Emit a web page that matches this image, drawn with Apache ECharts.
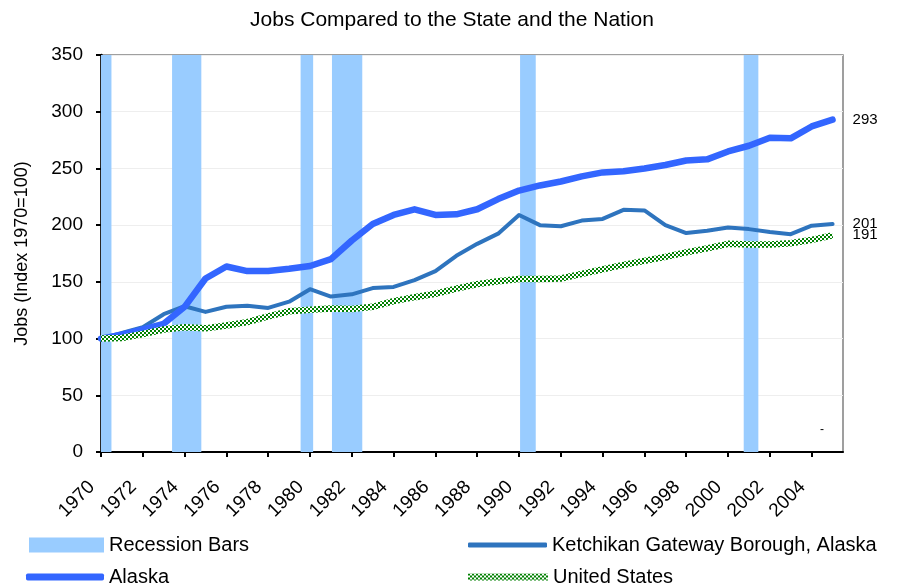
<!DOCTYPE html>
<html>
<head>
<meta charset="utf-8">
<title>Jobs Compared to the State and the Nation</title>
<script src="https://cdn.jsdelivr.net/npm/echarts@6/dist/echarts.min.js"></script>
<style>
  html, body { margin: 0; padding: 0; background: #fff; }
  #chart { width: 904px; height: 588px; }
</style>
</head>
<body>
<div id="chart"></div>
<script>
const years = [1970, 1971, 1972, 1973, 1974, 1975, 1976, 1977, 1978, 1979,
  1980, 1981, 1982, 1983, 1984, 1985, 1986, 1987, 1988, 1989,
  1990, 1991, 1992, 1993, 1994, 1995, 1996, 1997, 1998, 1999,
  2000, 2001, 2002, 2003, 2004, 2005]
const tickYears = [1970, 1972, 1974, 1976, 1978, 1980, 1982, 1984, 1986,
  1988, 1990, 1992, 1994, 1996, 1998, 2000, 2002, 2004]
const yTicks = [0, 50, 100, 150, 200, 250, 300, 350]
// start / end of each recession, in years
const recessions = [[1970, 1970.5], [1973.4, 1974.8], [1979.55, 1980.15],
  [1981.05, 1982.5], [1990.05, 1990.8], [2000.75, 2001.45]]
const ketchikan = [100, 105, 110, 121.5, 128.5, 123.5, 128, 129, 127, 132.5,
  143.5, 137, 139, 144.5, 145.5, 151.5, 159.5, 173, 183.5, 192.5,
  209, 200, 199, 204, 205.5, 213.5, 213, 200, 193, 195,
  198, 196.5, 194, 192, 199.5, 201]
const alaska = [100, 103.5, 108, 113, 128, 153, 163.5, 159.5, 159.5, 161.5,
  164, 170, 186.5, 201, 209, 214, 209, 209.5, 214, 223,
  230.5, 235, 238.5, 243, 246.5, 247.5, 250, 253, 257, 258,
  265, 270, 277, 276.5, 287, 293]
const unitedStates = [100, 100.5, 104, 108, 110, 109, 111.5, 114.5, 119.5, 124,
  125.5, 126.5, 126, 128, 133, 136.5, 139.5, 144, 148, 150.5,
  152.5, 152.5, 153, 157, 161, 165, 168.5, 172, 176, 179.5,
  183.5, 183, 183, 184, 187, 191]

const font = "'Liberation Sans', Arial, sans-serif"
const yMax = 350

function pairs(values) {
  return values.map((v, i) => [years[i], v])
}

// green / white checkered fill for the US line
function checker() {
  const c = document.createElement('canvas')
  c.width = 4
  c.height = 4
  const ctx = c.getContext('2d')
  ctx.fillStyle = '#ffffff'
  ctx.fillRect(0, 0, 4, 4)
  ctx.fillStyle = '#008000'
  ctx.fillRect(0, 0, 2, 2)
  ctx.fillRect(2, 2, 2, 2)
  return c
}
const usPattern = { image: checker(), repeat: 'repeat' }

const endLabel = {
  show: true,
  distance: 20,
  fontSize: 15,
  color: '#000',
  fontFamily: font,
  formatter: p => Math.round(p.value[1])
}

// one legend box per entry, so the two columns line up like the original
function legendItem(name, icon, left, top, w, h, color) {
  return {
    left: left, top: top, padding: 0,
    itemWidth: w, itemHeight: h,
    selectedMode: false,
    textStyle: { fontSize: 20, color: '#000', fontFamily: font },
    itemStyle: { color: color },
    data: [{ name: name, icon: icon }]
  }
}

const chart = echarts.init(document.getElementById('chart'))
chart.setOption({
  animation: false,
  title: {
    text: 'Jobs Compared to the State and the Nation',
    left: 'center',
    top: 5,
    textStyle: { fontSize: 21, fontWeight: 'normal', color: '#000', fontFamily: font }
  },
  grid: {
    left: 101, right: 61, top: 55, bottom: 136,
    show: true, borderColor: '#808080', borderWidth: 1.5
  },
  legend: [
    legendItem('Recession Bars', 'rect', 29, 535, 75, 15, '#99ccff'),
    legendItem('Alaska', 'roundRect', 26, 567, 78, 7, '#3366ff'),
    legendItem('Ketchikan Gateway Borough, Alaska', 'roundRect', 468, 535, 79, 5, '#2e74be'),
    legendItem('United States', 'rect', 468, 567, 80, 7, usPattern)
  ],
  xAxis: {
    type: 'value',
    min: 1970,
    max: 2005.5,
    axisLine: { lineStyle: { color: '#000', width: 2 } },
    axisTick: { customValues: tickYears, length: 5, lineStyle: { color: '#000', width: 2 } },
    axisLabel: {
      customValues: tickYears,
      rotate: 45,
      margin: 23,
      padding: [0, 13, 0, 0],
      fontSize: 19,
      color: '#000',
      fontFamily: font,
      formatter: v => String(v)
    },
    splitLine: { show: false }
  },
  yAxis: {
    type: 'value',
    min: 0,
    max: yMax,
    interval: 50,
    name: 'Jobs (Index 1970=100)',
    nameLocation: 'middle',
    nameGap: 70,
    nameTextStyle: { fontSize: 18, color: '#000', fontFamily: font },
    axisLine: { show: true, lineStyle: { color: '#000', width: 2.5 } },
    axisTick: { show: true, customValues: yTicks, length: 5, lineStyle: { color: '#000', width: 2 } },
    axisLabel: { customValues: yTicks, margin: 18, fontSize: 19, color: '#000', fontFamily: font },
    splitLine: { lineStyle: { color: '#eeeeee', width: 1 } }
  },
  graphic: [
    { type: 'text', left: 820, top: 424, style: { text: '-', fill: '#000', font: '12px ' + font } }
  ],
  series: [
    {
      name: 'Recession Bars',
      type: 'custom',
      data: recessions,
      encode: { x: [0, 1] },
      itemStyle: { color: '#99ccff' },
      z: 1,
      renderItem: (params, api) => {
        const p0 = api.coord([api.value(0), yMax])
        const p1 = api.coord([api.value(1), 0])
        return {
          type: 'rect',
          shape: { x: p0[0], y: p0[1], width: p1[0] - p0[0], height: p1[1] - p0[1] },
          style: { fill: '#99ccff' }
        }
      }
    },
    {
      name: 'Ketchikan Gateway Borough, Alaska',
      type: 'line',
      data: pairs(ketchikan),
      symbol: 'none',
      z: 3,
      itemStyle: { color: '#2e74be' },
      lineStyle: { color: '#2e74be', width: 4, join: 'round', cap: 'round' },
      endLabel: endLabel
    },
    {
      name: 'Alaska',
      type: 'line',
      data: pairs(alaska),
      symbol: 'none',
      z: 4,
      itemStyle: { color: '#3366ff' },
      lineStyle: { color: '#3366ff', width: 6.5, join: 'round', cap: 'round' },
      endLabel: endLabel
    },
    {
      name: 'United States',
      type: 'line',
      data: pairs(unitedStates),
      symbol: 'none',
      z: 5,
      itemStyle: { color: '#4c9a4c' },
      lineStyle: { color: usPattern, width: 6.5, join: 'round' },
      endLabel: endLabel
    }
  ]
})
</script>
</body>
</html>
